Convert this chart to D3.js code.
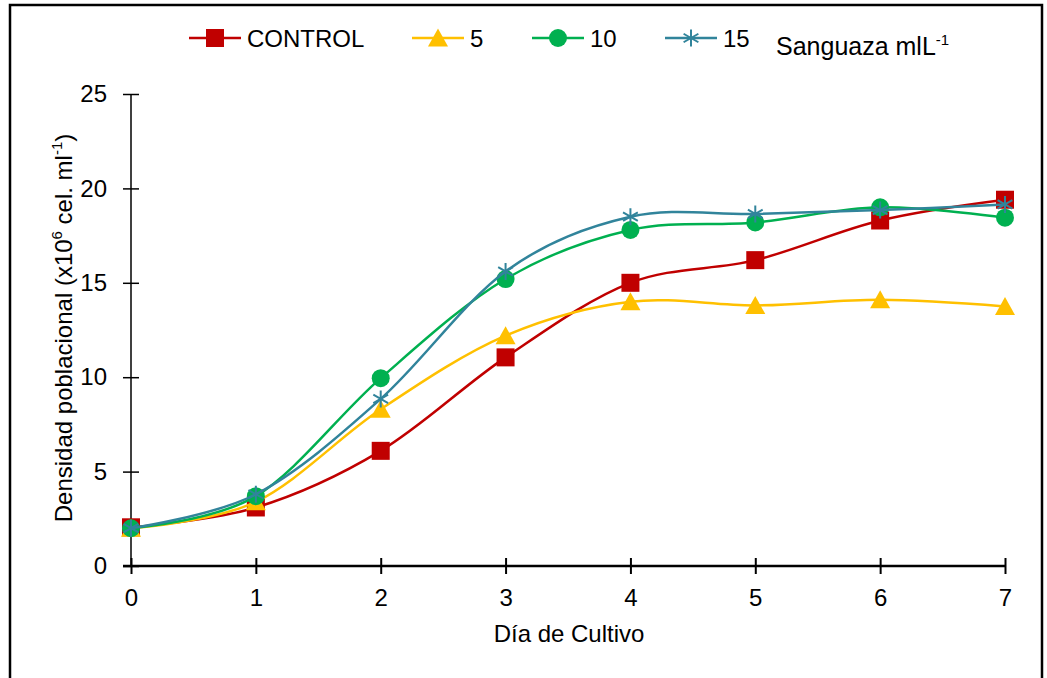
<!DOCTYPE html>
<html><head><meta charset="utf-8">
<script src="https://cdn.jsdelivr.net/npm/d3@7"></script>
<style>body{margin:0;background:#fff}svg{display:block;font-family:"Liberation Sans",Arial,sans-serif}</style>
</head><body>
<svg id="c" width="1047" height="678"></svg>
<script>
const days = [0,1,2,3,4,5,6,7];
const seriesNames = ["CONTROL","5","10","15"];
const control = [2.05,3.1,6.1,11.05,15.0,16.2,18.3,19.4];
const s5 = [2.0,3.4,8.3,12.2,14.0,13.8,14.1,13.75];
const s10 = [2.0,3.7,9.95,15.2,17.8,18.2,19.0,18.45];
const s15 = [2.0,3.8,8.85,15.6,18.5,18.65,18.85,19.15];
const yTicks = [0,5,10,15,20,25];
const colors = ["#C00000","#FFC000","#00B050","#31849B"];
const markers = ["square","triangle","circle","star"];

const svg = d3.select("#c");
const W=1047,H=678;
svg.append("path").attr("d",`M10,${H+5} L10,5 L1042,5 L1042,${H+5}`).attr("fill","none").attr("stroke","#000").attr("stroke-width",2.5);

const x = d3.scaleLinear().domain([0,7]).range([131,1005]);
const y = d3.scaleLinear().domain([0,25]).range([566,94]);

const gy = svg.append("g").attr("transform","translate(131,0)")
  .call(d3.axisLeft(y).tickValues(yTicks).tickFormat(d3.format("d")).tickSize(8).tickSizeOuter(0).tickPadding(16));
gy.selectAll(".tick line").attr("x2",8).attr("x1",-8).attr("stroke-width",1.5);
gy.select(".domain").attr("stroke-width",1.5).attr("d","M0,94V566");
gy.selectAll("text").attr("font-size",24).attr("font-family","Liberation Sans, Arial").attr("fill","#000");

const gx = svg.append("g").attr("transform","translate(0,566)")
  .call(d3.axisBottom(x).tickValues(days).tickFormat(d3.format("d")).tickSize(8).tickSizeOuter(0).tickPadding(15));
gx.selectAll(".tick line").attr("y1",-8).attr("y2",8).attr("stroke-width",2);
gx.select(".domain").attr("stroke-width",2.5).attr("d","M123,0H1005");
gx.selectAll("text").attr("font-size",24).attr("font-family","Liberation Sans, Arial").attr("fill","#000");

svg.append("text").attr("x",569).attr("y",642).attr("text-anchor","middle")
  .attr("font-size",24).text("Día de Cultivo");
const yt = svg.append("text").attr("transform","translate(72,328) rotate(-90)").attr("text-anchor","middle").attr("font-size",24);
yt.append("tspan").text("Densidad poblacional (x10");
yt.append("tspan").attr("font-size",15).attr("dy",-10).text("6");
yt.append("tspan").attr("dy",10).text(" cel. ml");
yt.append("tspan").attr("font-size",15).attr("dy",-10).text("-1");
yt.append("tspan").attr("dy",10).text(")");

function drawMarker(g, type, cx, cy, color){
  if(type==="square"){
    g.append("rect").attr("x",cx-9).attr("y",cy-9).attr("width",18).attr("height",18).attr("fill",color);
  } else if(type==="triangle"){
    g.append("path").attr("d",`M${cx},${cy-9.5} L${cx+10},${cy+8.5} L${cx-10},${cy+8.5}Z`).attr("fill",color);
  } else if(type==="circle"){
    g.append("circle").attr("cx",cx).attr("cy",cy).attr("r",9).attr("fill",color);
  } else {
    const r=8.5;
    const d=`M${cx},${cy-r}L${cx},${cy+r}M${cx-r*0.87},${cy-r*0.5}L${cx+r*0.87},${cy+r*0.5}M${cx-r*0.87},${cy+r*0.5}L${cx+r*0.87},${cy-r*0.5}`;
    g.append("path").attr("d",d).attr("stroke",color).attr("stroke-width",2).attr("fill","none");
  }
}

const data = [control,s5,s10,s15];
const line = d3.line().x((d,i)=>x(days[i])).y(d=>y(d)).curve(d3.curveCardinal.tension(0));
data.forEach((vals,k)=>{
  const g = svg.append("g");
  g.append("path").attr("d",line(vals)).attr("fill","none").attr("stroke",colors[k]).attr("stroke-width",2.5);
  vals.forEach((v,i)=>drawMarker(g,markers[k],x(days[i]),y(v),colors[k]));
});

const legX = [189,412,532,665];
legX.forEach((lx,k)=>{
  const g = svg.append("g");
  g.append("line").attr("x1",lx).attr("x2",lx+52).attr("y1",38).attr("y2",38).attr("stroke",colors[k]).attr("stroke-width",2.5);
  drawMarker(g,markers[k],lx+26,38,colors[k]);
  g.append("text").attr("x",lx+58).attr("y",46.5).attr("font-size",24).text(seriesNames[k]);
});
const st = svg.append("text").attr("x",776).attr("y",55).attr("font-size",25);
st.append("tspan").text("Sanguaza mlL");
st.append("tspan").attr("font-size",15).attr("dy",-10).text("-1");
</script>
</body></html>
